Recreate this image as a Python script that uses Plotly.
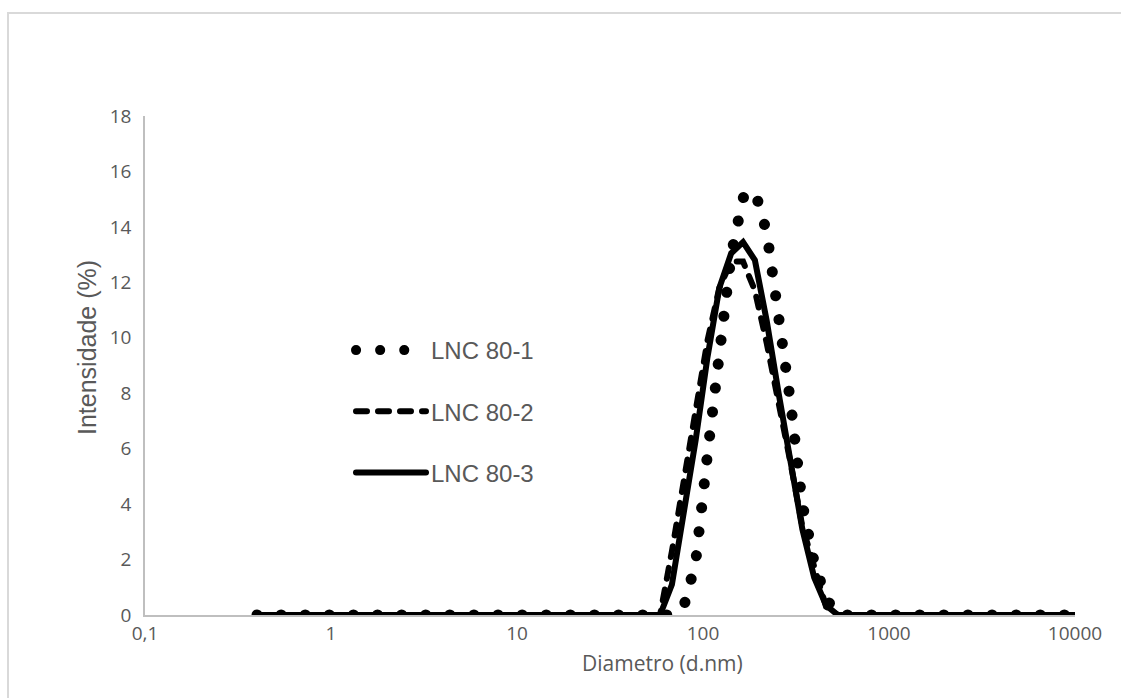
import plotly.graph_objects as go

# Size bins (d.nm)
diameter = [0.4, 0.4632, 0.5365, 0.6213, 0.7195, 0.8332, 0.9649, 1.117, 1.294, 1.499,
            1.736, 2.01, 2.328, 2.696, 3.122, 3.615, 4.187, 4.849, 5.615, 6.503,
            7.531, 8.721, 10.1, 11.7, 13.54, 15.69, 18.17, 21.04, 24.36, 28.21,
            32.67, 37.84, 43.82, 50.75, 58.77, 68.06, 78.82, 91.28, 105.7, 122.4,
            141.8, 164.2, 190.1, 220.2, 255.0, 295.3, 342.0, 396.1, 458.7, 531.2,
            615.1, 712.4, 825.0, 955.4, 1106, 1281, 1484, 1718, 1990, 2305,
            2669, 3091, 3580, 4145, 4801, 5560, 6439, 7456, 8635, 10000]

zeros34 = [0.0] * 34
zeros20 = [0.0] * 20

lnc_80_1 = zeros34 + [0.0, 0.0, 0.3, 1.9, 5.8, 9.5, 13.0, 15.05, 15.3, 13.8,
                      10.8, 7.7, 4.0, 1.9, 0.6, 0.0] + zeros20
lnc_80_2 = zeros34 + [0.0, 2.3, 4.8, 7.5, 9.9, 11.8, 12.75, 12.75, 11.7, 9.8,
                      7.7, 5.5, 3.2, 1.65, 0.3, 0.0] + zeros20
lnc_80_3 = zeros34 + [0.0, 1.1, 3.6, 6.3, 9.3, 11.8, 13.05, 13.45, 12.8, 10.6,
                      8.0, 5.5, 3.1, 1.35, 0.35, 0.0] + zeros20

names = ["LNC 80-1", "LNC 80-2", "LNC 80-3"]
x_ticks = [0.1, 1, 10, 100, 1000, 10000]
x_tick_text = ["0,1", "1", "10", "100", "1000", "10000"]
y_ticks = [0, 2, 4, 6, 8, 10, 12, 14, 16, 18]
x_title = "Diametro (d.nm)"
y_title = "Intensidade (%)"

W, H = 1121, 698
L, R, T, B = 145, 46, 116, 83
pw, ph = W - L - R, H - T - B

grey = "#595959"
tick_font = dict(family="Open Sans, sans-serif", size=19, color=grey)
arial = "Liberation Sans, Arial, sans-serif"

fig = go.Figure()
styles = [
    dict(color="black", width=11, dash="0.1px,24px"),
    dict(color="black", width=6, dash="11px,11px"),
    dict(color="black", width=6),
]
for name, ys, st, g in zip(names, [lnc_80_1, lnc_80_2, lnc_80_3], styles, ["a", "b", "c"]):
    fig.add_trace(go.Scatter(x=diameter, y=ys, mode="lines", name=name,
                             line=st, legendgroup=g, hoverinfo="skip"))

# outer chart border (cropped at right / bottom)
fig.add_shape(type="rect", xref="paper", yref="paper",
              x0=(8 - L) / pw, x1=(W + 20 - L) / pw,
              y0=-(H + 20 - T - ph) / ph, y1=(H - B - 13) / ph,
              line=dict(color="#d9d9d9", width=2), fillcolor="rgba(0,0,0,0)", layer="below")

# axis titles (placed as in the reference, slightly off-centre)
fig.add_annotation(text=x_title, xref="paper", yref="paper",
                   x=(662 - L) / pw, y=-(663 - (H - B)) / ph, xanchor="center", yanchor="middle",
                   showarrow=False, font=dict(family="Open Sans, sans-serif", size=21, color=grey))
fig.add_annotation(text=y_title, xref="paper", yref="paper", textangle=-90,
                   x=(87 - L) / pw, y=(615 - 348) / ph, xanchor="center", yanchor="middle",
                   showarrow=False, font=dict(family=arial, size=25, color=grey))

fig.update_layout(
    width=W, height=H,
    margin=dict(l=L, r=R, t=T, b=B),
    paper_bgcolor="white", plot_bgcolor="white",
    showlegend=True,
    legend=dict(x=(351 - L) / pw, y=(615 - 328) / ph, xanchor="left", yanchor="top",
                bgcolor="rgba(0,0,0,0)", itemwidth=70, tracegroupgap=27,
                font=dict(family=arial, size=24, color=grey)),
    xaxis=dict(type="log", range=[-1, 4], tickvals=x_ticks, ticktext=x_tick_text,
               showgrid=False, zeroline=False, showline=True, linecolor="#bfbfbf",
               linewidth=1.5, ticks="", tickfont=tick_font, ticklabelstandoff=0),
    yaxis=dict(range=[0, 18], tickvals=y_ticks, showgrid=False, zeroline=False,
               showline=True, linecolor="#bfbfbf", linewidth=1.5, ticks="",
               tickfont=tick_font, ticklabelstandoff=8),
)

post = """
var gd = document.getElementById('{plot_id}');
gd.querySelectorAll('path.js-line').forEach(function(p){ p.style.strokeLinecap = 'round'; });
"""
fig.write_html("out.html", post_script=post)
